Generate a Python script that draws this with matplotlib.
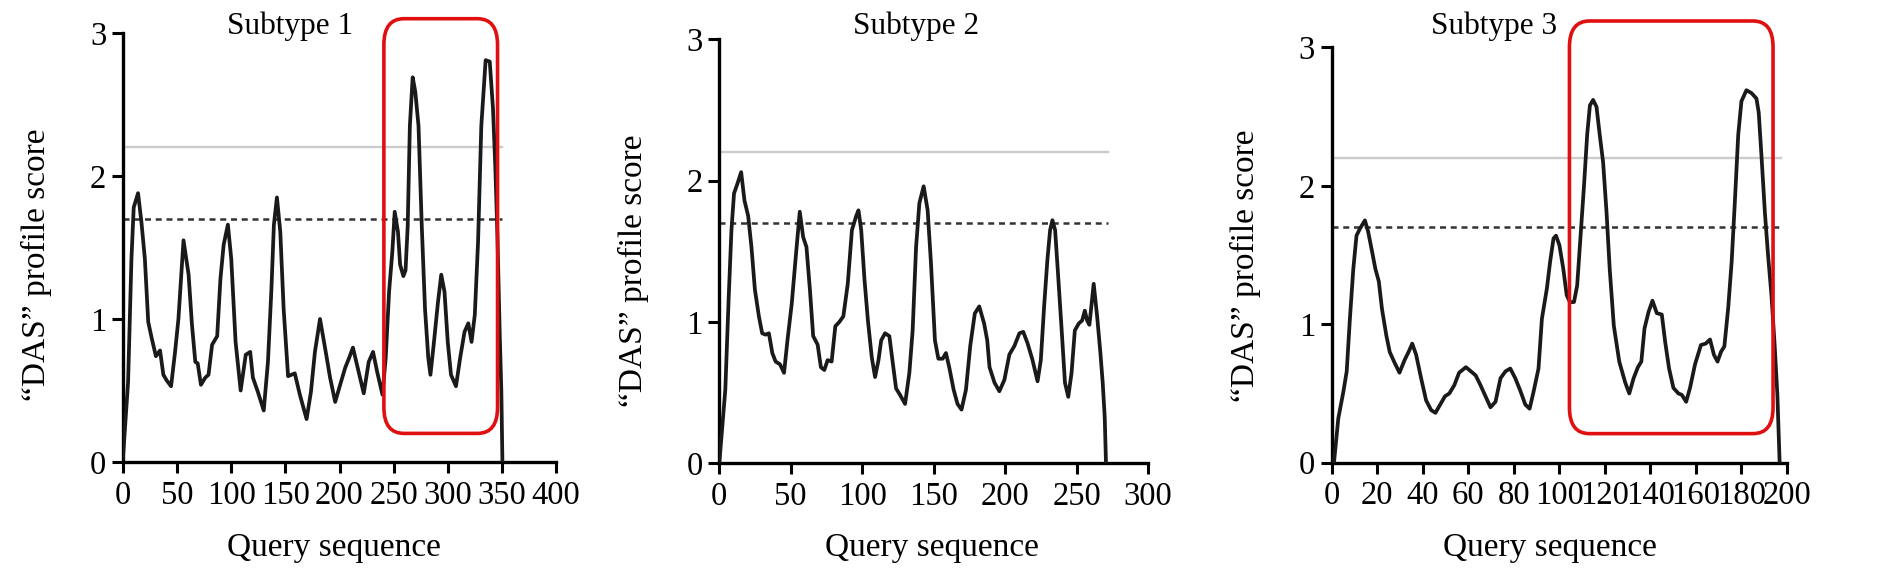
import matplotlib
matplotlib.use("Agg")
import matplotlib.pyplot as plt
from matplotlib.patches import FancyBboxPatch

plt.rcParams['font.family'] = ['Liberation Serif', 'DejaVu Serif']
plt.rcParams['mathtext.fontset'] = 'stix'

# ---------------- data ----------------
titles = ["Subtype 1", "Subtype 2", "Subtype 3"]
x_label = "Query sequence"
y_label = "\u201cDAS\u201d profile score"

x1 = [0, 4.7, 7.8, 9.9, 13.9, 17, 20.2, 23.3, 26.4, 30.4, 34.2, 37.3, 40.4, 44.4, 48.1, 51.2,
      55.9, 60.6, 63.7, 66.8, 69, 72, 76, 79, 82.3, 87, 90, 93, 96.9, 100, 104, 108.7, 113.4,
      117.5, 120, 124.6, 130, 133.9, 137, 139.4, 142.2, 145.3, 148.4, 152.5, 158.7, 163.4,
      169.6, 173.6, 177.3, 182, 186.6, 191.3, 196, 200.6, 205.3, 209, 212.4, 217.7, 222.4,
      227, 231, 234.8, 239.7, 242.7, 245.8, 248.8, 251, 254, 256, 259, 261, 263, 265, 267.6,
      270, 273, 276, 279, 282, 284, 287, 291, 294, 297, 300, 303, 307.6, 311.5, 315.5, 319,
      322, 325, 328, 331, 335, 338.8, 341.8, 344, 346, 348, 349.5, 350.5]
y1 = [0.03, 0.56, 1.42, 1.78, 1.88, 1.68, 1.42, 0.98, 0.87, 0.74, 0.78, 0.61, 0.57, 0.53, 0.77, 1.0,
      1.55, 1.31, 0.96, 0.70, 0.69, 0.54, 0.59, 0.61, 0.82, 0.88, 1.28, 1.52, 1.66, 1.42, 0.84, 0.50, 0.75,
      0.77, 0.59, 0.49, 0.36, 0.70, 1.19, 1.66, 1.85, 1.61, 1.07, 0.60, 0.62, 0.47,
      0.30, 0.49, 0.77, 1.0, 0.80, 0.59, 0.42, 0.54, 0.66, 0.73, 0.80, 0.63, 0.48,
      0.70, 0.77, 0.63, 0.47, 0.73, 1.19, 1.47, 1.75, 1.61, 1.38, 1.30, 1.34, 1.65, 2.35, 2.69,
      2.59, 2.35, 1.65, 1.07, 0.73, 0.61, 0.82, 1.12, 1.31, 1.19, 0.84, 0.61, 0.53, 0.73, 0.91, 0.97,
      0.84, 1.03, 1.54, 2.35, 2.81, 2.80, 2.47, 2.05, 1.55, 0.9, 0.5, 0.0]

x2 = [0, 4.2, 6.6, 8.5, 10.3, 12.4, 15.3, 17.6, 20.2, 22.5, 24.9, 27.7, 30, 32.4, 34.7, 37.1, 39.4,
      42.5, 45.3, 47.7, 50.7, 53.5, 56.3, 58.7, 61, 63.4, 65.7, 68.8, 71.1, 73.5, 75.8, 78.6, 81.2,
      84, 86.8, 89.9, 92.8, 95.8, 97.4, 99.3, 101.6, 104, 106.7, 109, 111.4, 113.3, 116, 119, 121.4,
      123.7, 126.7, 130, 133, 135.3, 137.7, 140, 143, 145.8, 148.1, 150.9, 153.3, 156.3, 158.6,
      160.9, 164, 166.7, 169.5, 172.6, 175.6, 178.8, 181.9, 185.3, 187.5, 189.1, 192.6, 196, 199.5,
      203, 206.5, 210, 212.7, 215.7, 219.2, 222.7, 225, 227.3, 229.6, 231.5, 233.1, 235, 237.3,
      239.6, 241.9, 244.2, 246.5, 248.8, 251.6, 253.9, 255.8, 257.4, 259, 262, 264.4, 266.7, 268.3,
      269.7, 270.6]
y2 = [0.0, 0.52, 1.18, 1.65, 1.91, 1.97, 2.06, 1.86, 1.75, 1.53, 1.23, 1.04, 0.92, 0.91, 0.92, 0.78, 0.72,
      0.70, 0.64, 0.87, 1.13, 1.46, 1.78, 1.60, 1.53, 1.23, 0.90, 0.84, 0.68, 0.66, 0.73, 0.72, 0.97,
      1.0, 1.04, 1.27, 1.65, 1.75, 1.79, 1.65, 1.30, 1.01, 0.75, 0.61, 0.73, 0.87, 0.92, 0.90, 0.71,
      0.53, 0.48, 0.42, 0.64, 0.94, 1.53, 1.84, 1.96, 1.79, 1.42, 0.87, 0.74, 0.74, 0.78,
      0.68, 0.52, 0.42, 0.38, 0.52, 0.83, 1.06, 1.11, 0.99, 0.87, 0.68, 0.57, 0.51, 0.59,
      0.77, 0.83, 0.92, 0.93, 0.85, 0.73, 0.58, 0.73, 1.11, 1.44, 1.65, 1.72, 1.65, 1.30,
      0.94, 0.57, 0.47, 0.64, 0.94, 0.99, 1.01, 1.08, 1.01, 0.98, 1.27, 1.04, 0.78, 0.57,
      0.33, 0.0]

x3 = [1, 2.9, 5.1, 6.6, 8, 9.5, 10.9, 12.4, 14.6, 16, 17.8, 19.2, 20.7, 22.1, 24, 25.5, 27.7, 29.8,
      32, 33.8, 35.4, 37.1, 39.3, 41.5, 43.7, 45.6, 47.7, 49.8, 51.7, 53.9, 56, 59, 61.9, 63.3, 65.4,
      67.6, 69.8, 72, 74.2, 76.4, 78.5, 80.7, 82.9, 85.1, 87, 88.7, 90.9, 92.4, 94.6, 96, 97.5, 98.6,
      100.1, 101.8, 103.3, 104.7, 106.5, 107.9, 109.4, 110.9, 112.3, 113.5, 114.9, 116.4, 117.8,
      119.3, 120.8, 122.2, 124, 126.4, 129, 130.8, 132.7, 134.6, 136.1, 137.5, 139.3, 141, 142.9,
      145.1, 146.6, 148.3, 150.2, 152.4, 153.9, 155.8, 157.5, 159.7, 162.3, 164.4, 166.3, 168,
      169.6, 171.1, 172.6, 174.3, 175.8, 177.2, 178.7, 180.1, 182.3, 184.5, 186.7, 187.7, 188.9,
      190.4, 191.8, 193.3, 194.7, 195.9, 196.9]
y3 = [0.0, 0.32, 0.51, 0.66, 1.04, 1.40, 1.64, 1.69, 1.75, 1.67, 1.52, 1.40, 1.31, 1.11, 0.92, 0.80, 0.72, 0.65,
      0.74, 0.80, 0.86, 0.78, 0.61, 0.45, 0.38, 0.36, 0.42, 0.48, 0.50, 0.56, 0.65, 0.69, 0.65, 0.63, 0.56,
      0.48, 0.40, 0.44, 0.61, 0.66, 0.68, 0.61, 0.52, 0.42, 0.39, 0.51, 0.68, 1.04, 1.26, 1.45, 1.62, 1.64,
      1.57, 1.40, 1.21, 1.16, 1.16, 1.28, 1.64, 2.0, 2.37, 2.58, 2.62, 2.57, 2.37,
      2.17, 1.81, 1.40, 0.99, 0.73, 0.58, 0.50, 0.61, 0.69, 0.73, 0.97, 1.09, 1.17, 1.08,
      1.07, 0.87, 0.68, 0.54, 0.50, 0.49, 0.44, 0.54, 0.71, 0.85, 0.86, 0.89, 0.78,
      0.73, 0.80, 0.84, 1.12, 1.45, 1.88, 2.37, 2.61, 2.69, 2.67, 2.63, 2.53, 2.22,
      1.81, 1.50, 1.21, 0.85, 0.49, 0.0]

xs = [x1, x2, x3]
ys = [y1, y2, y3]
x_max = [400, 300, 200]
x_ticks = [list(range(0, 401, 50)), list(range(0, 301, 50)), list(range(0, 201, 20))]
y_ticks = [0, 1, 2, 3]
gray_level = 2.2          # solid light-gray threshold
dash_level = 1.7          # dashed threshold
line_end = [350, 272, 197.5]
# highlighted regions (x0, x1, y0, y1); None = no box
boxes = [(241, 346, 0.20, 3.10), None, (104.5, 194, 0.21, 3.19)]

# ---------------- layout ----------------
W, H = 1879, 582
DPI = 100
fig = plt.figure(figsize=(W / DPI, H / DPI), dpi=DPI)

SERIF = 'Liberation Serif'

# (left px, y0 px, width px, height px) measured from top of image
ax_px = [(123, 462, 433, 429), (719.3, 463.3, 428.7, 424), (1331.7, 462.7, 455, 415.4)]
title_px = [(290, 26), (916, 26), (1494, 26)]
ylab_coords = [(-0.20, 0.46), (-0.20, 0.455), (-0.19, 0.474)]
xlab_coords = [(0.487, -0.20), (0.497, -0.20), (0.48, -0.205)]

for i in range(3):
    l, y0, w, h = ax_px[i]
    ax = fig.add_axes([l / W, (H - y0) / H, w / W, h / H])
    ax.plot(xs[i], ys[i], color='#1a1a1a', lw=2.7, solid_joinstyle='round', zorder=3)
    ax.plot([0, line_end[i]], [gray_level, gray_level], color='#cccccc', lw=1.7, zorder=1)
    ax.plot([0, line_end[i]], [dash_level, dash_level], color='#333333', lw=1.8,
            dashes=(2.4, 1.9), zorder=2)
    ax.set_xlim(0, x_max[i])
    ax.set_ylim(0, 3)
    ax.set_xticks(x_ticks[i])
    ax.set_xticklabels([str(t) for t in x_ticks[i]], fontfamily=SERIF, fontsize=23.5)
    ax.set_yticks(y_ticks)
    ax.set_yticklabels([str(t) for t in y_ticks], fontfamily=SERIF, fontsize=23.5)
    ax.tick_params(axis='both', direction='out', length=8, width=2.2)
    ax.tick_params(axis='x', pad=5)
    ax.tick_params(axis='y', pad=4)
    for s in ['top', 'right']:
        ax.spines[s].set_visible(False)
    for s in ['left', 'bottom']:
        ax.spines[s].set_linewidth(2.4)
    ax.set_xlabel(x_label, fontsize=24, va='center', fontfamily=SERIF)
    ax.xaxis.set_label_coords(*xlab_coords[i])
    ax.set_ylabel(y_label, fontsize=24, va='center', fontfamily=SERIF)
    ax.yaxis.set_label_coords(*ylab_coords[i])
    tx, ty = title_px[i]
    fig.text(tx / W, 1 - ty / H, titles[i], fontsize=22.5, ha='center', va='center',
             fontfamily=SERIF)

    if boxes[i] is not None:
        bx0, bx1, by0, by1 = boxes[i]
        px_per_x = w / x_max[i]
        px_per_y = h / 3.0
        rx = 20 / px_per_x
        ry = 26 / px_per_y
        patch = FancyBboxPatch((bx0, by0), bx1 - bx0, by1 - by0,
                               boxstyle=f"round,pad=0,rounding_size={rx}",
                               mutation_aspect=ry / rx, fill=False,
                               edgecolor='#e01010', lw=2.6, clip_on=False, zorder=4)
        ax.add_patch(patch)

fig.savefig("out.png", dpi=DPI)
